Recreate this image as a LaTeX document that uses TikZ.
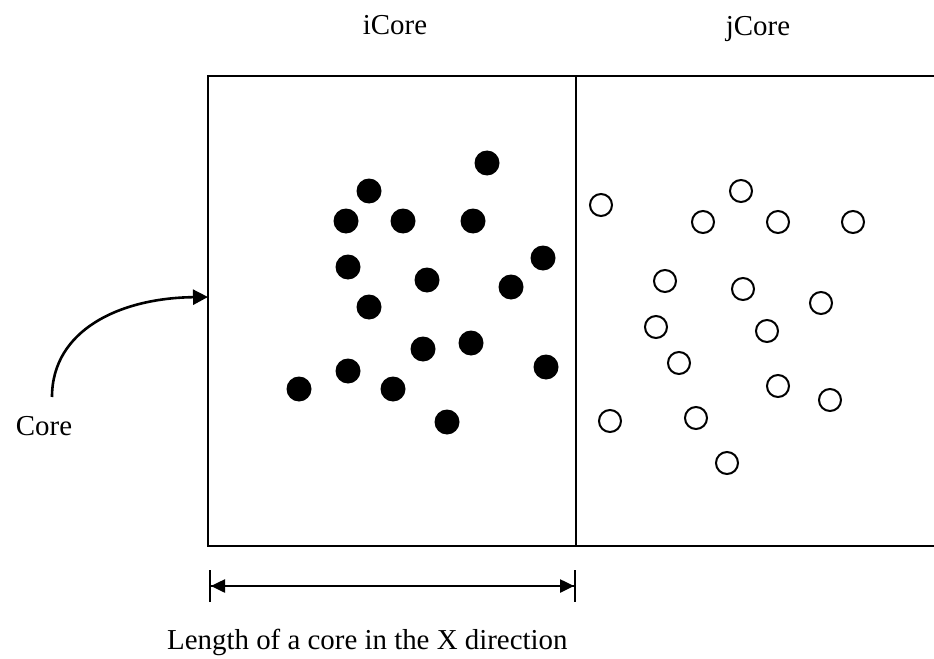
\documentclass[tikz,border=0pt]{standalone}
\usepackage{fontspec}
\setmainfont{Liberation Serif}
\usepackage{tikz}
\usetikzlibrary{positioning,arrows.meta}
\tikzset{
  corelabel/.style={font=\fontsize{29}{34}\selectfont,inner sep=0pt},
  fulldot/.style={circle,fill=black,minimum size=25bp,inner sep=0pt},
  opendot/.style={circle,draw=black,line width=2bp,minimum size=22bp,inner sep=0pt},
  coreframe/.style={draw=black,line width=2bp},
  pointer/.style={-{Triangle[length=15bp,width=15bp]},line width=2.6bp},
  dimflow/.style={{Bar[width=32bp,line width=2bp]Triangle[length=14bp,width=13bp]}-{Triangle[length=14bp,width=13bp]Bar[width=32bp,line width=2bp]},line width=2.5bp}
}

\begin{document}
\begin{tikzpicture}[x=1bp,y=-1bp]
  \useasboundingbox (0,0) rectangle (934,659);
  % frame of the two cores, cut off at the right
  \coordinate (tl) at (208,76);
  \coordinate (bl) at (208,546);
  \coordinate (tr) at (934,76);
  \coordinate (br) at (934,546);
  \coordinate (midtop) at (576,76);
  \coordinate (midbot) at (576,546);
  \draw[coreframe] (tr) -- (tl) -- (bl) -- (br);
  \draw[coreframe] (midtop) -- (midbot);
  \node[corelabel,anchor=base] (icore) at (395,35) {iCore};
  \node[corelabel,anchor=base] (jcore) at (758,36) {jCore};
  % particles
  \foreach \px/\py [count=\i] in {487/163,369/191,346/221,403/221,473/221,543/258,348/267,427/280,511/287,
      369/307,423/349,471/343,546/367,348/371,299/389,393/389,447/422}
    \node[fulldot] (fd\i) at (\px,\py) {};
  \foreach \px/\py [count=\i] in {601/205,741/191,703/222,778/222,853/222,665/281,743/289,821/303,
      656/327,767/331,679/363,778/386,830/400,610/421,696/418,727/463}
    \node[opendot] (od\i) at (\px,\py) {};
  % pointer to the core
  \node[corelabel,anchor=base] (core) at (44,435) {Core};
  \coordinate (corefoot) at (52,397);
  \coordinate (corein) at (208,297);
  \draw[pointer] (corefoot) .. controls (52,330) and (120,298) .. (corein);
  % length of a core
  \coordinate (lenleft) at (209,586);
  \coordinate (lenright) at (576,586);
  \draw[dimflow] (lenleft) -- (lenright);
  \node[corelabel,anchor=base west] (lenlabel) at (167,649) {Length of a core in the X direction};
\end{tikzpicture}
\end{document}
